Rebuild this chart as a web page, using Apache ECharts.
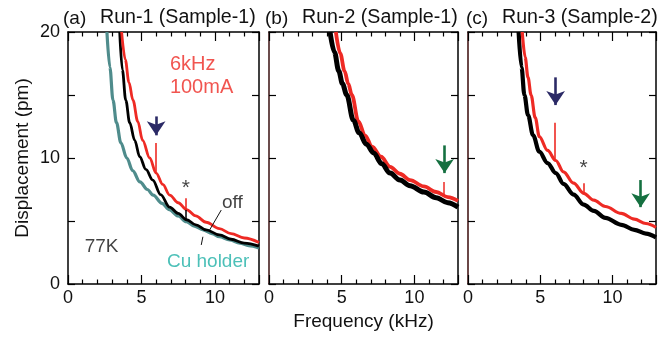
<!DOCTYPE html>
<html><head><meta charset="utf-8">
<script src="https://cdn.jsdelivr.net/npm/echarts@6/dist/echarts.min.js"></script>
<style>html,body{margin:0;padding:0;background:#fff}#c{width:659px;height:339px}</style>
</head><body><div id="c"></div>
<script>
// ---------- data ----------
const panelTags = ['(a)', '(b)', '(c)'];
const panelTitles = ['Run-1 (Sample-1)', 'Run-2 (Sample-1)', 'Run-3 (Sample-2)'];
const yTickLabels = [0, 10, 20];
const xTickLabels = [0, 5, 10];

// Panel (a)
const aCuF  = [2.65, 2.85, 3.06, 3.3, 3.6, 4.0, 4.4, 4.9, 5.4, 5.8, 6.4, 6.9, 7.5, 8.05, 8.6, 9.2, 9.8, 10.3, 11.0, 11.7, 12.3, 13.0];
const aCuY  = [20, 17.2, 14.6, 12.8, 11.2, 10.0, 9.0, 8.1, 7.5, 7.05, 6.4, 5.9, 5.4, 4.95, 4.6, 4.3, 4.0, 3.75, 3.5, 3.25, 3.05, 2.85];
const aOffF = [3.52, 3.7, 3.93, 4.2, 4.54, 4.88, 5.3, 5.77, 6.3, 6.92, 7.5, 8.07, 8.7, 9.4, 10.3, 11.1, 12.0, 13.0];
const aOffY = [20, 17, 14.6, 12.8, 11.4, 10.1, 9.1, 8.25, 7.1, 6.1, 5.6, 5.1, 4.7, 4.3, 3.9, 3.55, 3.25, 3.0];
const aOnF  = [3.65, 3.9, 4.15, 4.42, 4.75, 5.08, 5.56, 6.0, 6.45, 6.92, 7.5, 8.07, 8.7, 9.4, 10.3, 11.1, 12.0, 13.0];
const aOnY  = [20, 17.8, 16.0, 14.6, 12.9, 11.4, 10.0, 8.8, 7.9, 7.06, 6.45, 5.9, 5.4, 4.9, 4.4, 4.0, 3.65, 3.3];
const aOnSpikeF = [6, 8];      const aOnSpikeLo = [8.8, 5.9];   const aOnSpikeHi = [11.2, 6.8];
const aOffSpikeF = [8];        const aOffSpikeLo = [5.1];       const aOffSpikeHi = [5.9];

// Panel (b)
const bOffF = [4.2, 4.5, 4.8, 5.05, 5.35, 5.8, 6.2, 6.7, 7.2, 7.75, 8.33, 9.0, 9.7, 10.65, 11.5, 12.3, 13.0];
const bOffY = [20, 18.4, 16.9, 15.9, 15, 13.0, 12.0, 11.1, 10.4, 9.55, 8.8, 8.25, 7.8, 7.3, 6.85, 6.45, 6.1];
const bOnF  = [4.6, 4.9, 5.2, 5.45, 5.7, 6.15, 6.6, 7.1, 7.7, 8.33, 9.0, 9.7, 10.65, 11.5, 12.3, 13.0];
const bOnY  = [20, 18.3, 16.9, 15.9, 15, 12.9, 11.8, 10.9, 10.1, 9.3, 8.75, 8.25, 7.75, 7.3, 6.9, 6.6];
const bOnSpikeF = [12];        const bOnSpikeLo = [7.05];       const bOnSpikeHi = [8.1];

// Panel (c)
const cOffF = [3.5, 3.7, 3.9, 4.15, 4.5, 4.93, 5.5, 6.07, 6.6, 7.3, 8.0, 8.7, 9.5, 10.6, 11.5, 12.3, 13.0];
const cOffY = [20, 17.2, 15, 13.4, 11.8, 10.5, 9.6, 8.8, 7.95, 7.1, 6.3, 5.8, 5.25, 4.7, 4.3, 4.0, 3.7];
const cOnF  = [3.75, 3.95, 4.15, 4.36, 4.65, 4.93, 5.5, 6.07, 6.6, 7.3, 8.0, 8.7, 9.5, 10.6, 11.5, 12.3, 13.0];
const cOnY  = [20, 18.0, 16.4, 15, 13.2, 11.7, 10.6, 9.8, 8.9, 8.0, 7.2, 6.65, 6.15, 5.6, 5.15, 4.8, 4.5];
const cOnSpikeF = [6, 8];      const cOnSpikeLo = [9.8, 7.2];   const cOnSpikeHi = [12.8, 8.0];

// Arrows
const arrowPanel = [0, 1, 2, 2];
const arrowF     = [6, 12.08, 6.06, 11.94];
const arrowYFrom = [13.3, 11.0, 16.4, 8.25];
const arrowYTo   = [11.8, 8.8, 14.2, 6.1];
const arrowKind  = ['drive', 'harm', 'drive', 'harm'];

// Text notes
const notePanel = [0, 0, 0, 0, 0, 0, 2];
const noteText  = ['6kHz', '100mA', '77K', 'off', 'Cu holder', '*', '*'];
const noteF     = [6.9, 6.9, 1.1, 10.45, 6.7, 7.7, 7.68];
const noteY     = [17.4, 15.6, 2.95, 6.45, 1.75, 7.6, 9.2];
const noteKind  = ['on', 'on', 'plain', 'plain', 'cu', 'plain', 'plain'];

// Leader lines (panel a)
const leaderF1 = [10.43, 9.07]; const leaderY1 = [5.87, 3.1];
const leaderF2 = [9.64, 9.18];  const leaderY2 = [4.29, 3.75];

// ---------- styling ----------
const FONT = '"Liberation Sans", Arial, Helvetica, sans-serif';
const RED = '#ee2a24', BLACK = '#000000', TEAL = '#4f8c8c', CUTXT = '#1fb0a6';
const NAVY = '#2b2a66', GREEN = '#157040';
const noteColor = {on: RED, plain: '#111', cu: CUTXT};
const arrowColor = {drive: NAVY, harm: GREEN};

const grids = [
  {left: 68, top: 32, width: 191, height: 252},
  {left: 269, top: 32, width: 189, height: 252},
  {left: 468, top: 32, width: 189, height: 252}
];
const leftAxisColor = ['#000', '#3a1010', '#3a0a0a'];
const tagLeft = [63, 265, 466];
const titleLeft = [100, 302, 502];

const zip = (a, b) => a.map((v, i) => [v, b[i]]);

const xAxes = [], yAxes = [];
grids.forEach((g, i) => {
  const common = {
    gridIndex: i, type: 'value', min: 0, max: 13, interval: 5,
    axisLine: {show: true, onZero: false, lineStyle: {color: '#000', width: 1.5}},
    axisTick: {show: true, inside: true, length: 9, lineStyle: {color: '#000', width: 1.2}},
    minorTick: {show: true, splitNumber: 5, length: 4.5, lineStyle: {color: '#000', width: 1.2}},
    splitLine: {show: false}
  };
  xAxes.push(Object.assign({}, common, {
    position: 'bottom',
    axisLabel: {show: true, margin: 5, fontSize: 18, fontFamily: FONT, color: '#111',
      formatter: v => xTickLabels.includes(v) ? String(v) : ''},
    name: i === 1 ? 'Frequency (kHz)' : '', nameLocation: 'middle', nameGap: 28,
    nameTextStyle: {fontSize: 19, fontFamily: FONT, color: '#111'}
  }));
  xAxes.push(Object.assign({}, common, {position: 'top', axisLabel: {show: false}}));
  const ycommon = {
    gridIndex: i, type: 'value', min: 0, max: 20, interval: 5,
    axisTick: {show: true, inside: true, length: 7, lineStyle: {color: '#000', width: 1.2}},
    splitLine: {show: false}
  };
  yAxes.push(Object.assign({}, ycommon, {
    position: 'left',
    axisLine: {show: true, onZero: false, lineStyle: {color: leftAxisColor[i], width: 1.5}},
    axisLabel: {show: i === 0, margin: 8, fontSize: 18, fontFamily: FONT, color: '#111',
      formatter: v => yTickLabels.includes(v) ? String(v) : ''},
    name: i === 0 ? 'Displacement (pm)' : '', nameLocation: 'middle', nameRotate: 90, nameGap: 36,
    nameTextStyle: {fontSize: 19, fontFamily: FONT, color: '#111'}
  }));
  yAxes.push(Object.assign({}, ycommon, {
    position: 'right',
    axisLine: {show: true, onZero: false, lineStyle: {color: '#000', width: 1.5}},
    axisLabel: {show: false}
  }));
});

function curve(panel, f, y, color, width, z) {
  return {
    type: 'line', xAxisIndex: panel * 2, yAxisIndex: panel * 2,
    data: zip(f, y), showSymbol: false, symbol: 'none', smooth: 0.35, smoothMonotone: 'x',
    lineStyle: {color: color, width: width, join: 'round'}, clip: true, z: z, silent: true
  };
}
function spikes(fs, lo, hi, color, width) {
  return fs.map((f, i) => [
    {coord: [f, lo[i]], lineStyle: {color: color, width: width, type: 'solid'}},
    {coord: [f, hi[i]]}
  ]);
}
function markLines(items) {
  return {silent: true, symbol: ['none', 'none'], label: {show: false}, animation: false, data: items};
}

const series = [];
const sCu = curve(0, aCuF, aCuY, TEAL, 3.2, 2);
const sAOff = curve(0, aOffF, aOffY, BLACK, 2.8, 3);
sAOff.markLine = markLines(spikes(aOffSpikeF, aOffSpikeLo, aOffSpikeHi, BLACK, 1.5));
const sAOn = curve(0, aOnF, aOnY, RED, 2.8, 4);
sAOn.markLine = markLines(spikes(aOnSpikeF, aOnSpikeLo, aOnSpikeHi, RED, 1.6)
  .concat(leaderF1.map((f, i) => [
    {coord: [f, leaderY1[i]], lineStyle: {color: '#111', width: 1, type: 'solid'}},
    {coord: [leaderF2[i], leaderY2[i]]}
  ])));
series.push(sCu, sAOff, sAOn);
const sBOn = curve(1, bOnF, bOnY, RED, 3.8, 2);
sBOn.markLine = markLines(spikes(bOnSpikeF, bOnSpikeLo, bOnSpikeHi, RED, 1.5));
const sBOff = curve(1, bOffF, bOffY, BLACK, 5, 3);
series.push(sBOn, sBOff);
const sCOff = curve(2, cOffF, cOffY, BLACK, 4.2, 2);
const sCOn = curve(2, cOnF, cOnY, RED, 3.2, 3);
sCOn.markLine = markLines(spikes(cOnSpikeF, cOnSpikeLo, cOnSpikeHi, RED, 1.6));
series.push(sCOff, sCOn);

[0, 1, 2].forEach(p => {
  const items = [];
  arrowPanel.forEach((ap, i) => {
    if (ap !== p) return;
    items.push([
      {coord: [arrowF[i], arrowYFrom[i]], lineStyle: {color: arrowColor[arrowKind[i]], width: 2.6, type: 'solid'}},
      {coord: [arrowF[i], arrowYTo[i]]}
    ]);
  });
  if (!items.length) return;
  series.push({
    type: 'line', xAxisIndex: p * 2, yAxisIndex: p * 2, data: [], silent: true, z: 6,
    markLine: {silent: true, symbol: ['none', 'arrow'], symbolSize: 14, label: {show: false},
      animation: false, data: items}
  });
});

[0, 2].forEach(p => {
  const d = [];
  notePanel.forEach((np, i) => {
    if (np !== p) return;
    const isStar = noteText[i] === '*';
    d.push({
      value: [noteF[i], noteY[i]],
      label: {show: true, formatter: noteText[i], position: 'right', distance: 0,
        color: noteColor[noteKind[i]], fontSize: isStar ? 21 : (noteKind[i] === 'on' ? 20 : 19),
        fontFamily: FONT}
    });
  });
  series.push({
    type: 'scatter', xAxisIndex: p * 2, yAxisIndex: p * 2, data: d, symbolSize: 1,
    itemStyle: {color: 'rgba(0,0,0,0)'}, silent: true, z: 7
  });
});

const titles = [];
panelTags.forEach((t, i) => {
  titles.push({text: t, left: tagLeft[i], top: 9, padding: 0,
    textStyle: {fontSize: 19, fontWeight: 'normal', fontFamily: FONT, color: '#111'}});
  titles.push({text: panelTitles[i], left: titleLeft[i], top: 8, padding: 0,
    textStyle: {fontSize: 19.6, fontWeight: 'normal', fontFamily: FONT, color: '#111'}});
});

const chart = echarts.init(document.getElementById('c'), null, {renderer: 'canvas'});
chart.setOption({
  animation: false,
  backgroundColor: '#fff',
  title: titles,
  grid: grids,
  xAxis: xAxes,
  yAxis: yAxes,
  series: series
});
</script></body></html>
